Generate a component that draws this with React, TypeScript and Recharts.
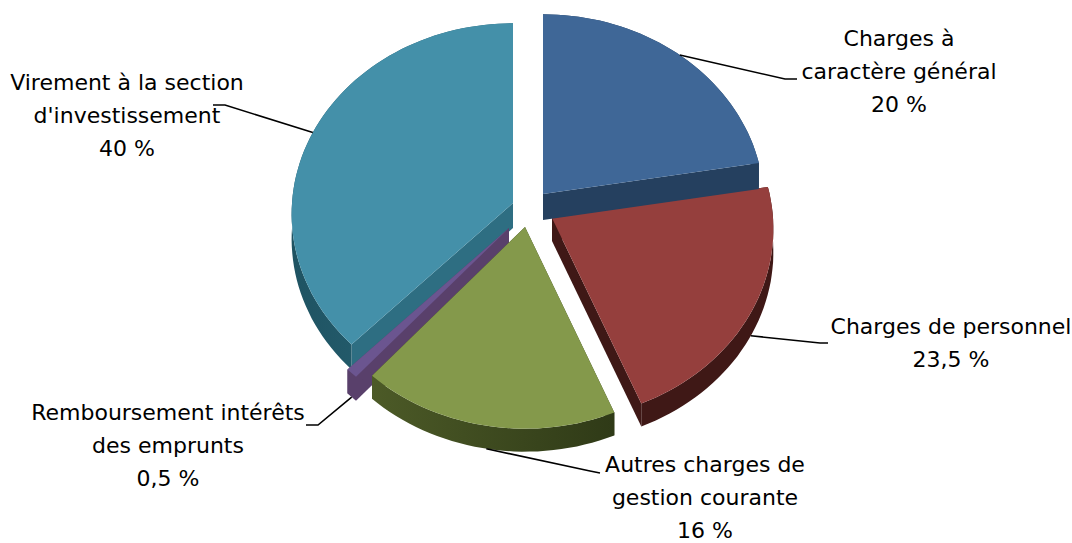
import React from "react";
import { PieChart, Pie } from "recharts";

// drawn back to front, so the order runs anticlockwise from the top
const names = [
  "Virement",
  "Remboursement",
  "Autres charges",
  "Personnel",
  "Charges generales",
];
const values = [40, 0.5, 16, 23.5, 20];
const labelLines = [
  ["Virement à la section", "d'investissement", "40 %"],
  ["Remboursement intérêts", "des emprunts", "0,5 %"],
  ["Autres charges de", "gestion courante", "16 %"],
  ["Charges de personnel", "23,5 %"],
  ["Charges à", "caractère général", "20 %"],
];
const topColors = ["#4490A9", "#6B5590", "#84994B", "#953F3D", "#3F6797"];
const sideColors = ["#2E6E82", "#59406B", "#343F1C", "#3F1816", "#25405F"];
const rimFrom = ["#1F5362", "#59406B", "#4C5A27", "#3F1816", "#25405F"];
const rimTo = ["#2B6B7E", "#59406B", "#2F3A17", "#3F1816", "#25405F"];

// how far each slice is pulled away from the centre, in pixels
const explodeX = [-18, -22, -6, 21, 12];
const explodeY = [-6, 19, 18, 9, -15];
const depths = [25, 24, 23, 23, 26];

// label centre, first line y, leader elbow and leader end
const labelPos = [
  { x: 127, y: 90, elbow: [225, 105], end: [213, 105], base: false },
  { x: 168, y: 420, elbow: [318, 425], end: [306, 425], base: true },
  { x: 705, y: 472, elbow: [590, 471], end: [600, 473], base: true },
  { x: 951, y: 334, elbow: [820, 343], end: [828, 343], base: true },
  { x: 899, y: 46, elbow: [785, 79], end: [797, 79], base: false },
];

const WIDTH = 1072;
const HEIGHT = 543;
const TILT = 0.86;
const PERSPECTIVE = 0.0576;
const LINE_HEIGHT = 33;

// the slices of the reference are not quite proportional on screen
const warpFrom = [0, 72, 156.6, 214.2, 216, 360];
const warpTo = [0, 80.5, 157.5, 221.5, 224.5, 360];

const warp = (a: number) => {
  for (let i = 1; i < warpFrom.length; i++) {
    if (a <= warpFrom[i]) {
      const t = (a - warpFrom[i - 1]) / (warpFrom[i] - warpFrom[i - 1]);
      return warpTo[i - 1] + t * (warpTo[i] - warpTo[i - 1]);
    }
  }
  return a;
};

const project = (deg: number, r: number) => {
  const a = (deg * Math.PI) / 180;
  const w = 1 + PERSPECTIVE * Math.cos(a);
  return [(r * Math.sin(a)) / w, (-r * TILT * Math.cos(a)) / w];
};

const rimPoints = (lo: number, hi: number, r: number, ax: number, ay: number) => {
  const pts: number[][] = [];
  const steps = Math.max(2, Math.ceil((hi - lo) / 2));
  for (let i = 0; i <= steps; i++) {
    const p = project(lo + ((hi - lo) * i) / steps, r);
    pts.push([ax + p[0], ay + p[1]]);
  }
  return pts;
};

const toPath = (pts: number[][]) =>
  "M" + pts.map((p) => `${p[0].toFixed(1)},${p[1].toFixed(1)}`).join("L") + "Z";

const sliceAngles = (startAngle: number, endAngle: number) => {
  const lo = warp(90 - endAngle + 360);
  const hi = warp(90 - startAngle + 360);
  return { lo, hi, mid: (lo + hi) / 2 };
};

const Slice = (props: any) => {
  const { cx, cy, outerRadius, startAngle, endAngle, name } = props;
  const i = names.indexOf(name);
  const { lo, hi } = sliceAngles(startAngle, endAngle);
  const ax = cx + explodeX[i];
  const ay = cy + explodeY[i];
  const rim = rimPoints(lo, hi, outerRadius, ax, ay);
  const apex = [ax, ay];
  const first = rim[0];
  const last = rim[rim.length - 1];
  const down = (pts: number[][]) => pts.map((p) => [p[0], p[1] + depths[i]]);
  const gradId = `rim-${i}`;
  return (
    <g>
      <defs>
        <linearGradient id={gradId} x1="0" y1="0" x2="1" y2="0">
          <stop offset="0" stopColor={rimFrom[i]} />
          <stop offset="1" stopColor={rimTo[i]} />
        </linearGradient>
      </defs>
      <path
        d={toPath([apex, first, ...down([first, apex])])}
        fill={sideColors[i]}
      />
      <path
        d={toPath([apex, last, ...down([last, apex])])}
        fill={sideColors[i]}
      />
      <path
        d={toPath([...rim, ...down(rim).reverse()])}
        fill={`url(#${gradId})`}
      />
      <path d={toPath([apex, ...rim])} fill={topColors[i]} />
    </g>
  );
};

const SliceLabel = (props: any) => {
  const { cx, cy, outerRadius, startAngle, endAngle, name } = props;
  const i = names.indexOf(name);
  const pos = labelPos[i];
  const { mid } = sliceAngles(startAngle, endAngle);
  const p = project(mid, outerRadius);
  const rimX = cx + explodeX[i] + p[0];
  const rimY = cy + explodeY[i] + p[1] + (pos.base ? depths[i] : 0);
  return (
    <g>
      <polyline
        points={`${rimX},${rimY} ${pos.elbow.join(",")} ${pos.end.join(",")}`}
        fill="none"
        stroke="#000"
        strokeWidth={1.6}
      />
      <text
        x={pos.x}
        y={pos.y}
        textAnchor="middle"
        fill="#000"
        style={{ fontFamily: "DejaVu Sans", fontSize: 22 }}
      >
        {labelLines[i].map((line, k) => (
          <tspan key={k} x={pos.x} y={pos.y + k * LINE_HEIGHT}>
            {line}
          </tspan>
        ))}
      </text>
    </g>
  );
};

const data = names.map((name, i) => ({ name, value: values[i] }));

export default function App() {
  return (
    <div style={{ position: "absolute", left: 0, top: 0 }}>
      <PieChart
        width={WIDTH}
        height={HEIGHT}
        margin={{ top: 0, right: 0, bottom: 0, left: 0 }}
      >
        <Pie
          data={data}
          dataKey="value"
          nameKey="name"
          cx={531}
          cy={209}
          innerRadius={0}
          outerRadius={221}
          startAngle={90}
          endAngle={450}
          stroke="none"
          shape={Slice}
          label={SliceLabel}
          labelLine={false}
          isAnimationActive={false}
        />
      </PieChart>
    </div>
  );
}
